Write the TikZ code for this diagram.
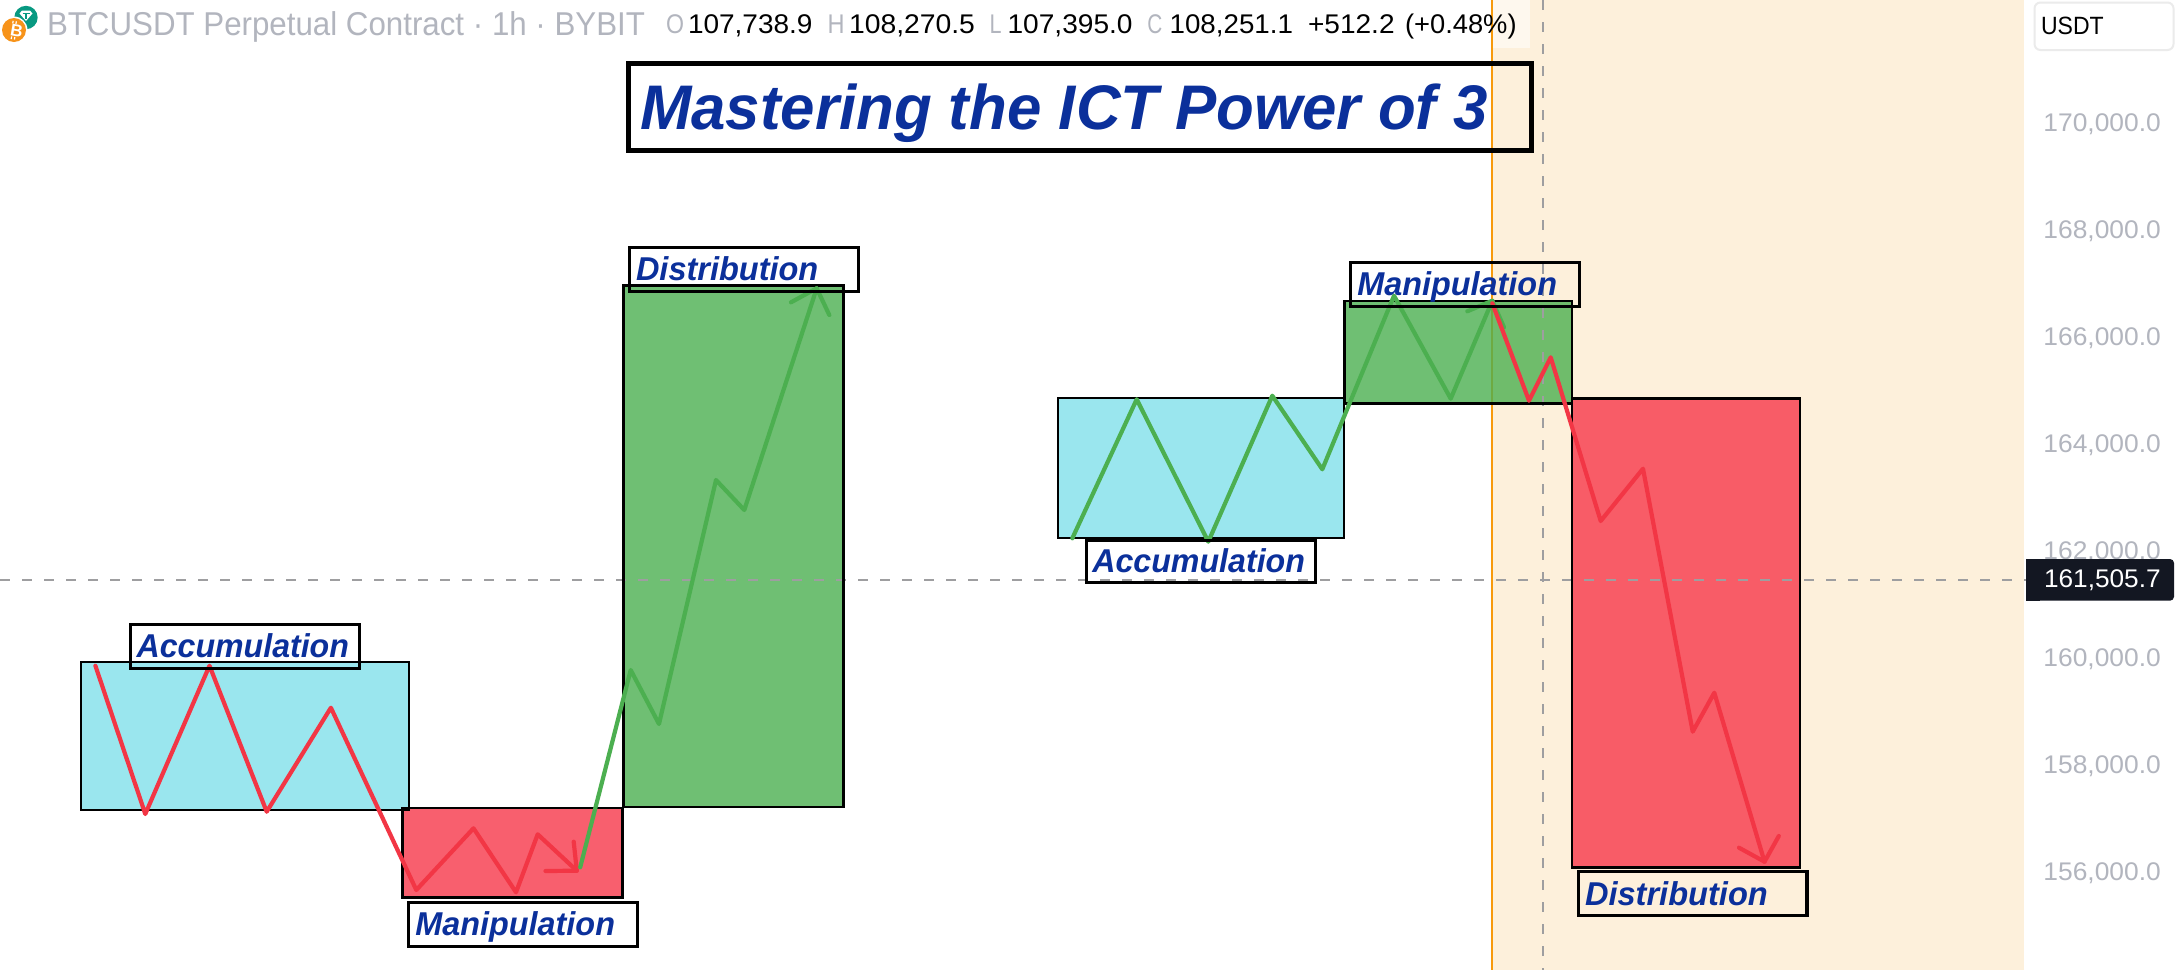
\documentclass[tikz,border=0pt]{standalone}
\usepackage{fontspec}
\usepackage{graphicx}
\setmainfont{Liberation Sans}
\definecolor{cyanfill}{HTML}{9AE6EE}
\definecolor{bearline}{HTML}{F23645}
\definecolor{bearfill}{HTML}{F7384A}
\definecolor{bullline}{HTML}{4CAF50}
\definecolor{creamzone}{HTML}{FDF0DB}
\definecolor{titleblue}{HTML}{0B309B}
\definecolor{axisgrey}{HTML}{B2B5BE}
\definecolor{sessionline}{HTML}{F79A0C}
\definecolor{crossgrey}{HTML}{9E9EA0}
\definecolor{pricebg}{HTML}{131722}
\definecolor{tealcoin}{HTML}{089981}
\definecolor{orangecoin}{HTML}{F7931A}
\tikzset{
  basetext/.style={anchor=base west,inner sep=0pt,outer sep=0pt},
  labeltext/.style={basetext,text=titleblue,font=\fontsize{33}{36}\selectfont\bfseries\itshape},
  titletext/.style={basetext,text=titleblue,font=\fontsize{63}{70}\selectfont\bfseries\itshape},
  headtext/.style={basetext,text=axisgrey,font=\fontsize{33}{36}\selectfont},
  ohlckey/.style={basetext,text=axisgrey,font=\fontsize{27}{28}\selectfont},
  ohlcval/.style={basetext,text=black,font=\fontsize{27}{28}\selectfont},
  axistext/.style={basetext,text=axisgrey,font=\fontsize{25.5}{28}\selectfont},
  labelbox/.style={draw=black,line width=3.3pt},
  zoneedge/.style={draw=black,line width=2.2pt},
  cyanzone/.style={fill=cyanfill},
  redzone/.style={fill=bearfill,fill opacity=0.8},
  greenzone/.style={fill=bullline,fill opacity=0.8},
  bearpath/.style={draw=bearline,line width=4.2pt,line join=round,line cap=round},
  bullpath/.style={draw=bullline,line width=4.2pt,line join=round,line cap=round},
  crosshair/.style={draw=crossgrey,line width=2pt,dash pattern=on 10pt off 12pt},
}
\newcommand\fitw[2]{\resizebox{#1pt}{\height}{#2}}
\begin{document}
\begin{tikzpicture}[x=1pt,y=-1pt]
\useasboundingbox (0,0) rectangle (2180,970);
\fill[white] (0,0) rectangle (2180,970);
% session highlight
\fill[creamzone] (1492,0) rectangle (2024,970);
\fill[white,opacity=0.55] (1492,0) rectangle (1530,48);
\draw[sessionline,line width=2.2pt] (1492,0) -- (1492,970);
% zones: fills
\fill[cyanzone] (81,662) rectangle (409,810);
\fill[cyanzone] (1058,398) rectangle (1344,538);
\fill[redzone] (402.5,808) rectangle (622.5,897.5);
\fill[greenzone] (623.5,285.5) rectangle (843.5,807);
\fill[greenzone] (1344.5,301) rectangle (1572,403.5);
\fill[redzone] (1572,398.5) rectangle (1800,867.5);
% crosshair
\draw[crosshair] (0,580) -- (2026,580);
\draw[crosshair] (1543,0) -- (1543,970);
% zones: outlines
\draw[zoneedge] (81,662) rectangle (409,810);
\draw[zoneedge] (1058,398) rectangle (1344,538);
\draw[zoneedge] (402.5,808) rectangle (622.5,897.5);
\draw[zoneedge] (623.5,285.5) rectangle (843.5,807);
\draw[zoneedge] (1344.5,301) rectangle (1572,403.5);
\draw[zoneedge] (1572,398.5) rectangle (1800,867.5);
% price paths
\draw[bearpath] (95.4,665.7) -- (145.3,814) -- (209.5,665.7) -- (266.7,811.7) -- (330.9,707.7) -- (416.3,890) -- (473.5,828.3) -- (516,892.3) -- (537.7,834.3) -- (576.8,870.7);
\draw[bearpath] (573.7,841.7) -- (576.8,870.7) -- (545.5,871);
\draw[bullpath] (580.2,867.3) -- (630.7,670) -- (659,724) -- (716,480) -- (744.3,510) -- (816.7,288.3);
\draw[bullpath] (791,302.3) -- (816.7,288.3) -- (829.3,315);
\draw[bullpath] (1072.3,538.3) -- (1136.7,399.3) -- (1208.3,541.7) -- (1272.3,395.7) -- (1322.3,469.3) -- (1394,295.7) -- (1450.7,398.7) -- (1492.3,300.7);
\draw[bullpath] (1467.3,311.3) -- (1492.3,300.7) -- (1504,327.3);
\draw[bearpath] (1492.3,303.3) -- (1529,400.7) -- (1550.7,357.3) -- (1600.7,521) -- (1643,468.7) -- (1692.7,731.7) -- (1714.3,692.7) -- (1764.5,861.7);
\draw[bearpath] (1739,847.7) -- (1764.5,861.7) -- (1778.8,836);
% title
\draw[draw=black,line width=4.8pt] (628.5,63.5) rectangle (1531.5,150.5);
\node[titletext] (title) at (640,129.3) {\fitw{848}{Mastering the ICT Power of 3}};
% labels
\draw[labelbox] (130.7,624.5) rectangle (359.7,668.2);
\node[labeltext] (accumL) at (136.6,657.7) {\fitw{212.4}{Accumulation}};
\draw[labelbox] (408.7,902.8) rectangle (637.3,946.2);
\node[labeltext] (manipL) at (415.4,935) {\fitw{199.6}{Manipulation}};
\draw[labelbox] (629.5,247.5) rectangle (858.2,291.2);
\node[labeltext] (distL) at (636,280.7) {\fitw{182.3}{Distribution}};
\draw[labelbox] (1086.5,540.5) rectangle (1315.2,582.8);
\node[labeltext] (accumR) at (1092.3,572.7) {\fitw{212.7}{Accumulation}};
\draw[labelbox] (1350.8,262.5) rectangle (1579.5,306.5);
\node[labeltext] (manipR) at (1357.3,295.7) {\fitw{199.7}{Manipulation}};
\draw[labelbox] (1578.5,871.5) rectangle (1807.1,915.2);
\node[labeltext] (distR) at (1585,905) {\fitw{182.8}{Distribution}};
% header
\fill[tealcoin] (26,17.5) circle (11.7);
\fill[white] (19.5,13.5) -- (22,10.5) -- (30,10.5) -- (32.5,13.5) -- (26,21) -- cycle;
\draw[tealcoin,line width=1.4pt] (22.5,13.3) -- (29.5,13.3) (26,13.3) -- (26,18.5);
\fill[white] (14,30) circle (13.5);
\fill[orangecoin] (14,30) circle (12);
\node[basetext,text=white,font=\fontsize{17}{18}\selectfont\bfseries,rotate=-10] (coinB) at (9.6,35.6) {B};
\draw[white,line width=1.2pt] (13.2,20.8) -- (12.7,23.4) (16.4,21.3) -- (15.9,23.9) (11.7,36.4) -- (11.2,39) (14.9,36.9) -- (14.4,39.5);
\node[headtext] (symbol) at (47,35) {\fitw{598}{BTCUSDT Perpetual Contract · 1h · BYBIT}};
\node[ohlckey] (keyO) at (666,33.5) {\fitw{18}{O}};
\node[ohlcval] (valO) at (688,33.5) {\fitw{124.5}{107,738.9}};
\node[ohlckey] (keyH) at (827.7,33.5) {\fitw{17}{H}};
\node[ohlcval] (valH) at (849,33.5) {\fitw{126}{108,270.5}};
\node[ohlckey] (keyL) at (989.7,33.5) {\fitw{12}{L}};
\node[ohlcval] (valL) at (1007.6,33.5) {\fitw{125}{107,395.0}};
\node[ohlckey] (keyC) at (1147.3,33.5) {\fitw{15}{C}};
\node[ohlcval] (valC) at (1169.6,33.5) {\fitw{123.4}{108,251.1}};
\node[ohlcval] (chg) at (1308,33.5) {\fitw{86.6}{+512.2}};
\node[ohlcval] (pct) at (1405,33.5) {\fitw{111.6}{(+0.48\%)}};
% axis
\draw[draw=black!8,line width=2pt,rounded corners=6pt,fill=white] (2034.5,2.5) rectangle (2173.5,50);
\node[basetext,text=black,font=\fontsize{25}{28}\selectfont] (unit) at (2041,34.3) {\fitw{62.7}{USDT}};
\node[axistext] (a170) at (2043.4,131.7) {\fitw{117.4}{170,000.0}};
\node[axistext] (a168) at (2043.4,238.6) {\fitw{117.4}{168,000.0}};
\node[axistext] (a166) at (2043.4,345.6) {\fitw{117.4}{166,000.0}};
\node[axistext] (a164) at (2043.4,452.6) {\fitw{117.4}{164,000.0}};
\node[axistext] (a162) at (2043.4,559.6) {\fitw{117.4}{162,000.0}};
\node[axistext] (a160) at (2043.4,666.6) {\fitw{117.4}{160,000.0}};
\node[axistext] (a158) at (2043.4,773.6) {\fitw{117.4}{158,000.0}};
\node[axistext] (a156) at (2043.4,880.7) {\fitw{117.4}{156,000.0}};
\fill[pricebg,rounded corners=4pt] (2026,559) -- (2174,559) -- (2174,600.7) -- (2026,600.7) -- cycle;
\fill[pricebg] (2026,559) rectangle (2040,600.7);
\node[basetext,text=white,font=\fontsize{25.5}{28}\selectfont] (price) at (2044,587.3) {\fitw{116.7}{161,505.7}};
\end{tikzpicture}
\end{document}
